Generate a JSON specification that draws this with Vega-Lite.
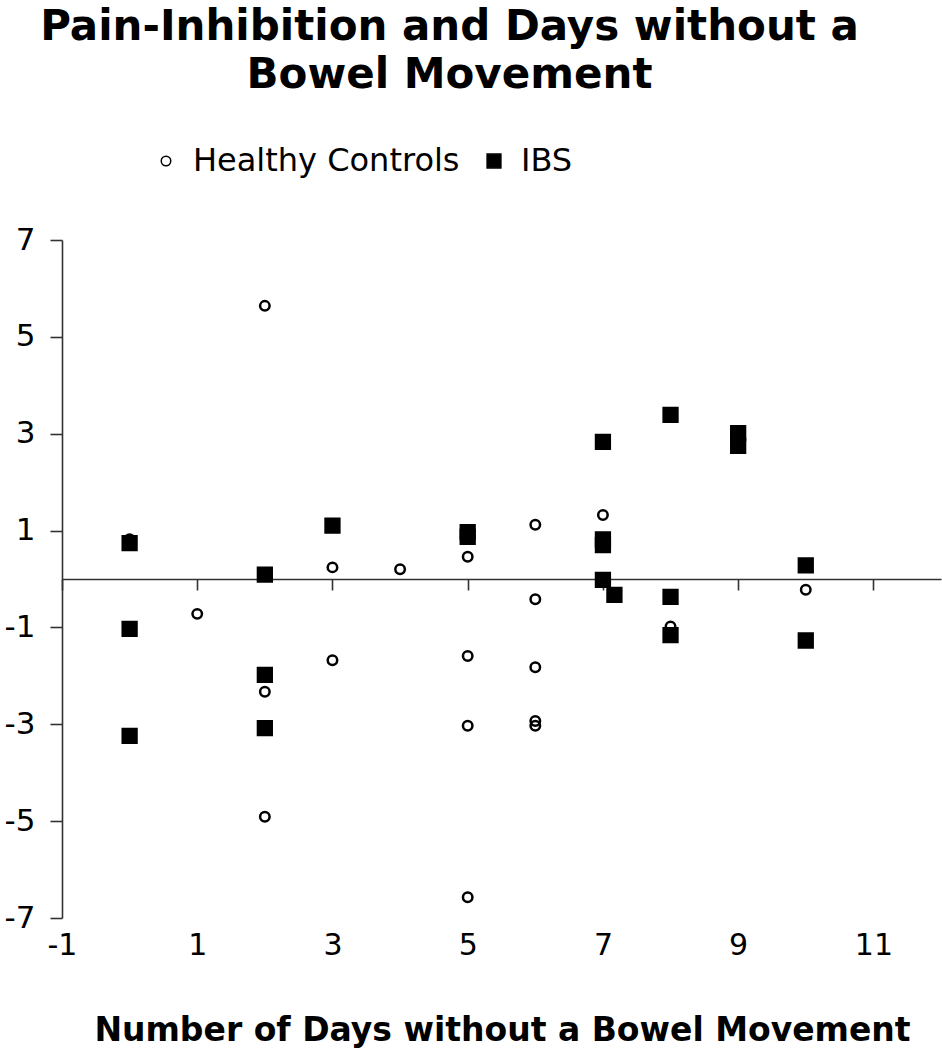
{
  "$schema": "https://vega.github.io/schema/vega-lite/v6.json",
  "width": 879,
  "height": 678,
  "autosize": "none",
  "padding": {"left": 62, "top": 240, "right": 1, "bottom": 132},
  "background": "white",
  "config": {"view": {"stroke": null}},
  "title": {
    "text": ["Pain-Inhibition and Days without a", "Bowel Movement"],
    "font": "DejaVu Sans",
    "fontSize": 42,
    "fontWeight": "bold",
    "color": "black",
    "lineHeight": 48,
    "anchor": "middle",
    "dx": -52,
    "offset": 48
  },
  "data": {
    "values": [
      {"days": 0, "value": 0.82, "group": "Healthy Controls"},
      {"days": 1, "value": -0.72, "group": "Healthy Controls"},
      {"days": 2, "value": 5.64, "group": "Healthy Controls"},
      {"days": 2, "value": -2.33, "group": "Healthy Controls"},
      {"days": 2, "value": -4.91, "group": "Healthy Controls"},
      {"days": 3, "value": 0.24, "group": "Healthy Controls"},
      {"days": 3, "value": -1.68, "group": "Healthy Controls"},
      {"days": 4, "value": 0.2, "group": "Healthy Controls"},
      {"days": 5, "value": 0.46, "group": "Healthy Controls"},
      {"days": 5, "value": -1.59, "group": "Healthy Controls"},
      {"days": 5, "value": -3.03, "group": "Healthy Controls"},
      {"days": 5, "value": -6.57, "group": "Healthy Controls"},
      {"days": 6, "value": 1.12, "group": "Healthy Controls"},
      {"days": 6, "value": -0.42, "group": "Healthy Controls"},
      {"days": 6, "value": -1.82, "group": "Healthy Controls"},
      {"days": 6, "value": -2.93, "group": "Healthy Controls"},
      {"days": 6, "value": -3.03, "group": "Healthy Controls"},
      {"days": 7, "value": 1.32, "group": "Healthy Controls"},
      {"days": 8, "value": -0.98, "group": "Healthy Controls"},
      {"days": 10, "value": -0.22, "group": "Healthy Controls"},
      {"days": 0, "value": 0.74, "group": "IBS"},
      {"days": 0, "value": -1.03, "group": "IBS"},
      {"days": 0, "value": -3.24, "group": "IBS"},
      {"days": 2, "value": 0.09, "group": "IBS"},
      {"days": 2, "value": -1.98, "group": "IBS"},
      {"days": 2, "value": -3.08, "group": "IBS"},
      {"days": 3, "value": 1.1, "group": "IBS"},
      {"days": 5, "value": 0.97, "group": "IBS"},
      {"days": 5, "value": 0.87, "group": "IBS"},
      {"days": 7, "value": 2.83, "group": "IBS"},
      {"days": 7, "value": 0.82, "group": "IBS"},
      {"days": 7, "value": 0.7, "group": "IBS"},
      {"days": 7, "value": -0.02, "group": "IBS"},
      {"days": 7.17, "value": -0.33, "group": "IBS"},
      {"days": 8, "value": 3.39, "group": "IBS"},
      {"days": 8, "value": -0.37, "group": "IBS"},
      {"days": 8, "value": -1.16, "group": "IBS"},
      {"days": 9, "value": 3.01, "group": "IBS"},
      {"days": 9, "value": 2.75, "group": "IBS"},
      {"days": 10, "value": 0.28, "group": "IBS"},
      {"days": 10, "value": -1.27, "group": "IBS"}
    ]
  },
  "mark": {"type": "point", "stroke": "black", "strokeWidth": 2.5, "opacity": 1},
  "encoding": {
    "x": {
      "field": "days",
      "type": "quantitative",
      "scale": {"domain": [-1, 12], "nice": false, "zero": false},
      "axis": {
        "values": [-1, 1, 3, 5, 7, 9, 11],
        "labelExpr": "datum.value + ''",
        "offset": -339,
        "grid": false,
        "domainColor": "#333333",
        "domainWidth": 1.6,
        "tickColor": "#333333",
        "tickWidth": 1.6,
        "tickSize": 11,
        "labelPadding": 340,
        "labelFont": "DejaVu Sans",
        "labelFontSize": 30,
        "labelColor": "black",
        "labelFlush": false,
        "title": "Number of Days without a Bowel Movement",
        "titleFont": "DejaVu Sans",
        "titleFontSize": 33,
        "titleFontWeight": "bold",
        "titleColor": "black",
        "titleBaseline": "alphabetic",
        "titleY": 461,
        "titleX": 440
      }
    },
    "y": {
      "field": "value",
      "type": "quantitative",
      "scale": {"domain": [-7, 7], "nice": false},
      "axis": {
        "values": [-7, -5, -3, -1, 1, 3, 5, 7],
        "labelExpr": "datum.value + ''",
        "grid": false,
        "domainColor": "#333333",
        "domainWidth": 1.6,
        "tickColor": "#333333",
        "tickWidth": 1.6,
        "tickSize": 12,
        "labelPadding": 15,
        "labelFont": "DejaVu Sans",
        "labelFontSize": 31,
        "labelColor": "black",
        "labelFlush": false,
        "title": null
      }
    },
    "shape": {
      "field": "group",
      "type": "nominal",
      "scale": {"domain": ["Healthy Controls", "IBS"], "range": ["circle", "square"]},
      "legend": {
        "orient": "none",
        "legendX": 88,
        "legendY": -95,
        "direction": "horizontal",
        "title": null,
        "labelFont": "DejaVu Sans",
        "labelFontSize": 32,
        "labelColor": "black",
        "labelLimit": 500,
        "labelOffset": 11,
        "columnPadding": 18,
        "symbolStrokeColor": "black"
      }
    },
    "fill": {
      "field": "group",
      "type": "nominal",
      "scale": {"domain": ["Healthy Controls", "IBS"], "range": ["transparent", "black"]}
    },
    "size": {
      "field": "group",
      "type": "nominal",
      "scale": {"domain": ["Healthy Controls", "IBS"], "range": [90, 190]}
    }
  }
}
